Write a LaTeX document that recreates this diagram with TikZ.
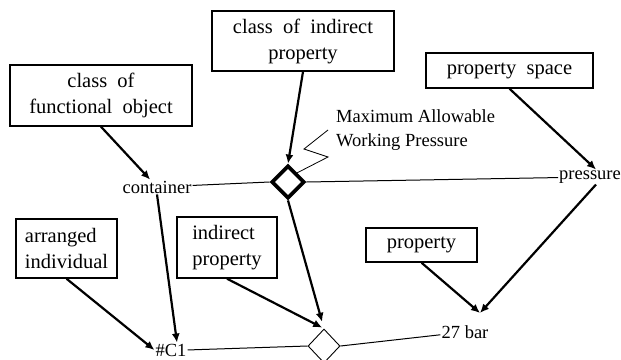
\documentclass[tikz,border=0pt]{standalone}
\usepackage{fontspec}
\setmainfont{Liberation Serif}
\newfontfamily\boxfont[WordSpace=2]{Liberation Serif}
\usetikzlibrary{shapes.geometric,arrows.meta}

\begin{document}
\begin{tikzpicture}[x=1pt,y=-1pt,
    thing/.style={draw,line width=1.4pt,inner sep=0pt,
      font=\boxfont\fontsize{20.5}{26}\selectfont},
    lbl/.style={inner sep=1pt,font=\fontsize{18.5}{24}\selectfont},
    link/.style={line width=1pt},
    isa/.style={line width=2.2pt,-{Latex[length=9pt,width=8pt]}},
    rel/.style={draw,diamond,inner sep=0pt}]
  \useasboundingbox (0,0) rectangle (621,359);

  % classes and individuals
  \node[thing,minimum width=182,minimum height=61,align=center] (cfo) at (101,95.5) {class of\\functional object};
  \node[thing,minimum width=182,minimum height=60,align=center] (cip) at (303,41) {class of indirect\\property};
  \node[thing,minimum width=167,minimum height=35] (ps) at (509.5,70.5) {property space};
  \node[thing,minimum width=101,minimum height=59,align=left] (ai) at (66.5,248.5) {arranged\\individual};
  \node[thing,minimum width=100,minimum height=61,align=left] (ip) at (227,247.5) {indirect\\property};
  \node[thing,minimum width=111,minimum height=34] (prop) at (421.5,245) {property};

  % instances
  \node[lbl] (cont) at (157,187) {container};
  \node[lbl,anchor=west] (pres) at (558,177) {pressure};
  \node[lbl,anchor=base] (c1) at (171,356) {\#C1};
  \node[lbl] (bar) at (465,332) {27 bar};
  \node[lbl,anchor=west,align=left] (mawp) at (335,130) {Maximum Allowable\\Working Pressure};

  % relationships
  \node[rel,line width=3.8pt,minimum width=33,minimum height=33] (cls) at (288,182) {};
  \node[rel,line width=0.9pt,minimum width=32,minimum height=34] (ind) at (324,346) {};
  \coordinate (meet) at (480,313);

  \draw[link] (cont) -- (cls.west);
  \draw[link] (cls.east) -- (pres);
  \draw[link] (c1.east) -- (ind.west);
  \draw[link] (ind.east) -- (bar);
  \draw[line width=0.8pt] ([xshift=-7]mawp.west) -- ++(-24,19) -- ++(24,8) -- (cls.north east);

  \draw[isa] (cfo.south) -- (cont);
  \draw[isa] (cip.south) -- (cls.north);
  \draw[isa] (ps.south) -- ([xshift=6]pres.north);
  \draw[isa] (cont.south) -- ([xshift=6]c1.north);
  \draw[isa] (ai.south) -- (c1.west);
  \draw[isa,shorten >=7pt] (cls.south) -- (ind.north);
  \draw[isa,shorten >=2pt] (ip.south) -- (ind.north);
  \draw[isa] (prop.south) -- (meet);
  \draw[isa] ([xshift=6]pres.south) -- (meet);
\end{tikzpicture}
\end{document}
